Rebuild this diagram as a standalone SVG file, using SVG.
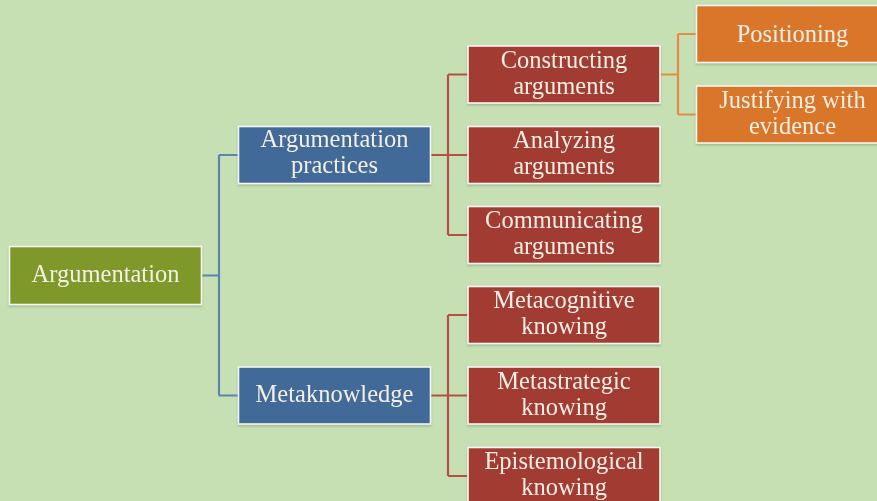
<svg xmlns="http://www.w3.org/2000/svg" width="877" height="501" viewBox="0 0 877 501">
  <style>
    .box { stroke: #f6f6f2; stroke-width: 1.6; }
    .root { fill: #7f982b; }
    .mid { fill: #426a99; }
    .leaf { fill: #a23a32; }
    .sub { fill: #d9762a; }
    text { font-family: "Liberation Serif", "Times New Roman", serif; font-size: 24.5px; fill: #f3efe4; text-anchor: middle; }
    .c-blue { stroke: #5b84b1; }
    .c-red { stroke: #b84f47; }
    .c-orange { stroke: #e88b45; }
    #connectors path { fill: none; stroke-width: 2.2; }
  </style>
  <defs>
    <filter id="shadow" x="-10%" y="-10%" width="120%" height="130%">
      <feDropShadow dx="0" dy="1.5" stdDeviation="1" flood-color="#6f8a60" flood-opacity="0.45"/>
    </filter>
  </defs>

  <rect width="877" height="501" fill="#c6e0b4"/>

  <g id="connectors">
    <path class="c-blue" d="M202 275.5 H219 M219 155 V395.5 M219 155 H238 M219 395.5 H238"/>
    <path class="c-red" d="M431 155 H468 M448 74.5 V235 M448 74.5 H468 M448 235 H468"/>
    <path class="c-red" d="M431 395.5 H468 M448 315 V476 M448 315 H468 M448 476 H468"/>
    <path class="c-orange" d="M660 74.5 H678 M678 34 V114.5 M678 34 H696 M678 114.5 H696"/>
  </g>

  <g id="argumentation" filter="url(#shadow)">
    <rect class="box root" x="9.5" y="246.5" width="192" height="58"/>
    <text x="105.5" y="282">Argumentation</text>
  </g>

  <g id="argumentation-practices" filter="url(#shadow)">
    <rect class="box mid" x="238.5" y="126.5" width="192" height="57"/>
    <text x="334.5" y="147">Argumentation</text>
    <text x="334.5" y="173">practices</text>
  </g>

  <g id="metaknowledge" filter="url(#shadow)">
    <rect class="box mid" x="238.5" y="367" width="192" height="57"/>
    <text x="334.5" y="402">Metaknowledge</text>
  </g>

  <g id="constructing-arguments" filter="url(#shadow)">
    <rect class="box leaf" x="468" y="46" width="192" height="57"/>
    <text x="564" y="67.5">Constructing</text>
    <text x="564" y="94">arguments</text>
  </g>

  <g id="analyzing-arguments" filter="url(#shadow)">
    <rect class="box leaf" x="468" y="126.5" width="192" height="57"/>
    <text x="564" y="148">Analyzing</text>
    <text x="564" y="174">arguments</text>
  </g>

  <g id="communicating-arguments" filter="url(#shadow)">
    <rect class="box leaf" x="468" y="206.5" width="192" height="57"/>
    <text x="564" y="228">Communicating</text>
    <text x="564" y="254">arguments</text>
  </g>

  <g id="metacognitive-knowing" filter="url(#shadow)">
    <rect class="box leaf" x="468" y="286.5" width="192" height="57"/>
    <text x="564" y="308">Metacognitive</text>
    <text x="564" y="334">knowing</text>
  </g>

  <g id="metastrategic-knowing" filter="url(#shadow)">
    <rect class="box leaf" x="468" y="367" width="192" height="57"/>
    <text x="564" y="388.5">Metastrategic</text>
    <text x="564" y="414.5">knowing</text>
  </g>

  <g id="epistemological-knowing" filter="url(#shadow)">
    <rect class="box leaf" x="468" y="447.5" width="192" height="57"/>
    <text x="564" y="469">Epistemological</text>
    <text x="564" y="495">knowing</text>
  </g>

  <g id="positioning" filter="url(#shadow)">
    <rect class="box sub" x="696.5" y="5.5" width="192" height="57"/>
    <text x="792.5" y="42">Positioning</text>
  </g>

  <g id="justifying-with-evidence" filter="url(#shadow)">
    <rect class="box sub" x="696.5" y="86" width="192" height="57"/>
    <text x="792.5" y="108">Justifying with</text>
    <text x="792.5" y="134">evidence</text>
  </g>
</svg>
